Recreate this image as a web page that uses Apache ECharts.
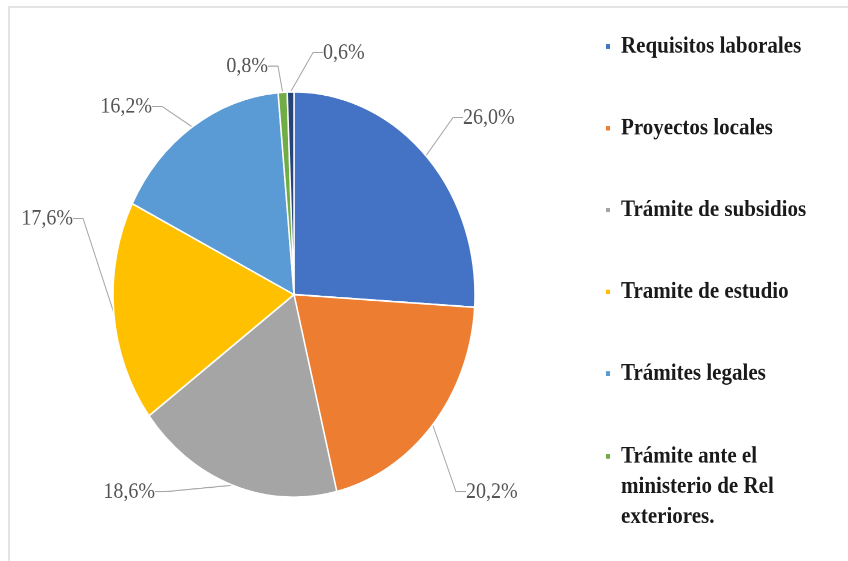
<!DOCTYPE html>
<html>
<head>
<meta charset="utf-8">
<script src="https://cdn.jsdelivr.net/npm/echarts@6/dist/echarts.min.js"></script>
<style>
  html, body { margin: 0; padding: 0; background: #ffffff; }
  #frame { position: absolute; left: 8px; top: 6px; width: 860px; height: 580px;
           border-left: 2px solid #e4e4e4; border-top: 2px solid #e4e4e4; box-sizing: border-box; }
  #chart { position: absolute; left: 0; top: 0; width: 848px; height: 501px;
           transform: scaleY(1.12); transform-origin: 0 0; }
</style>
</head>
<body>
<div id="frame"></div>
<div id="chart"></div>
<script>
// ---- data ----
const categories = [
  'Requisitos laborales',
  'Proyectos locales',
  'Trámite de subsidios',
  'Tramite de estudio',
  'Trámites legales',
  'Trámite ante el ministerio de Rel exteriores.',
  'Otros'
];
const values = [26.0, 20.2, 18.6, 17.6, 16.2, 0.8, 0.6];
const legendNames = categories.slice(0, 6);
const legendLabels = [
  'Requisitos laborales',
  'Proyectos locales',
  'Trámite de subsidios',
  'Tramite de estudio',
  'Trámites legales',
  'Trámite ante el\nministerio de Rel\nexteriores.'
];
const colors = ['#4472C4', '#ED7D31', '#A5A5A5', '#FFC000', '#5B9BD5', '#70AD47', '#264478'];

// ---- chart ----
const chart = echarts.init(document.getElementById('chart'), null, { renderer: 'canvas', devicePixelRatio: 2 });
const FONT = "'Liberation Serif', 'DejaVu Serif', serif";

// label placement (styling only): [x, y, align]
const labelPos = [
  [463, 105, 'left'],
  [466, 439, 'left'],
  [155, 439, 'right'],
  [73, 195, 'right'],
  [152, 95, 'right'],
  [268, 59, 'right'],
  [323, 47, 'left']
];

const legendText = {
  fontFamily: FONT,
  fontSize: 21,
  fontWeight: 'bold',
  color: '#1a1a1a',
  lineHeight: 27,
  padding: [0, 0, 0, 5]
};

chart.setOption({
  animation: false,
  color: colors,
  legend: [{
    orient: 'vertical',
    left: 604,
    top: 28,
    padding: 0,
    itemGap: 46,
    itemWidth: 6,
    itemHeight: 6,
    icon: 'rect',
    data: legendNames.slice(0, 5),
    formatter: name => legendLabels[legendNames.indexOf(name)],
    textStyle: legendText,
    selectedMode: false
  }, {
    orient: 'vertical',
    left: 604,
    top: 394,
    padding: 0,
    itemWidth: 6,
    itemHeight: 60,
    icon: 'path://M0,0h6v6h-6z M0,60',
    data: legendNames.slice(5, 6),
    formatter: name => legendLabels[legendNames.indexOf(name)],
    textStyle: legendText,
    selectedMode: false
  }],
  series: [{
    type: 'pie',
    center: [294, 263],
    radius: [0, 181],
    startAngle: 90,
    clockwise: true,
    avoidLabelOverlap: false,
    itemStyle: { borderColor: '#ffffff', borderWidth: 1.5 },
    label: {
      show: true,
      position: 'outside',
      fontFamily: FONT,
      fontSize: 20,
      color: '#555555',
      formatter: p => values[p.dataIndex].toFixed(1).replace('.', ',') + '%'
    },
    labelLine: {
      show: true,
      length: 15,
      length2: 10,
      lineStyle: { color: '#a6a6a6', width: 1 }
    },
    labelLayout: p => {
      const lp = labelPos[p.dataIndex];
      return { x: lp[0], y: lp[1], align: lp[2], verticalAlign: 'middle' };
    },
    emphasis: { disabled: true },
    data: categories.map((c, i) => ({ name: c, value: values[i] }))
  }]
});
</script>
</body>
</html>
